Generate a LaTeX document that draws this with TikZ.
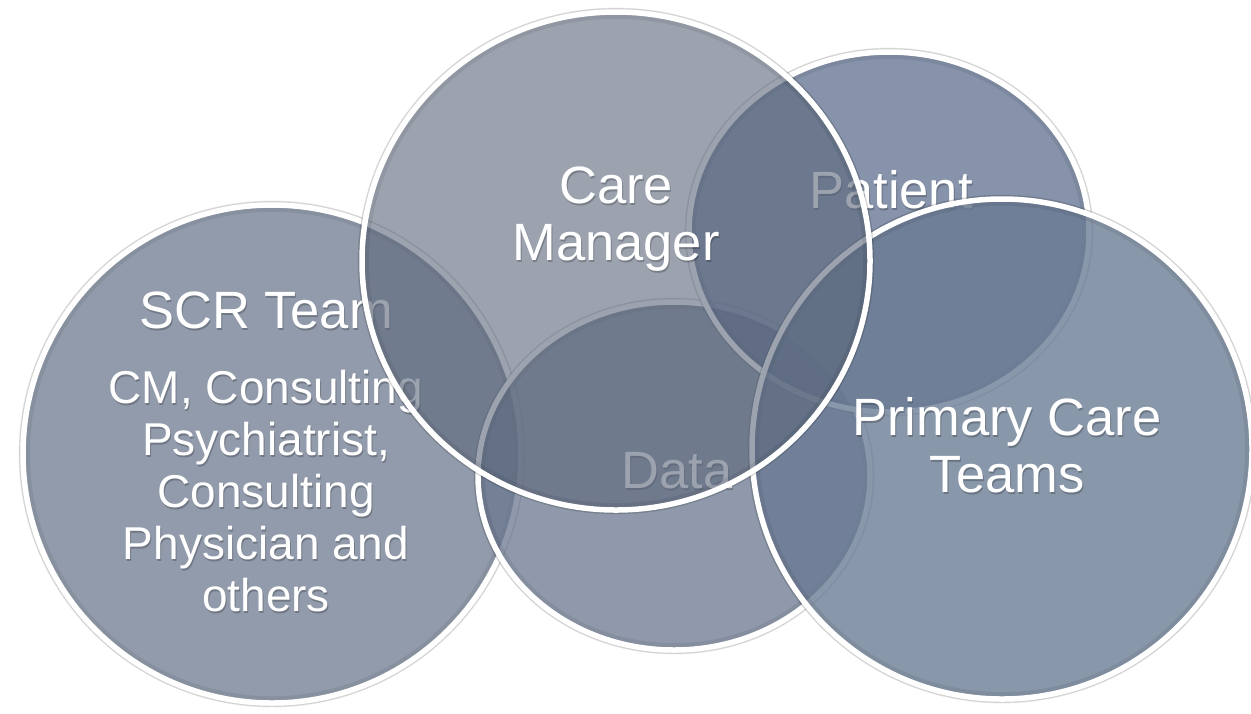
\documentclass[tikz,border=0pt]{standalone}
\usepackage{fontspec}
\setmainfont{Liberation Sans}
\usetikzlibrary{calc}

% fills of the five bubbles
\definecolor{scrfill}{RGB}{110,122,143}
\definecolor{datafill}{RGB}{106,119,143}
\definecolor{patfill}{RGB}{94,111,142}
\definecolor{pcfill}{RGB}{105,122,147}
\definecolor{cmfill}{RGB}{90,102,122}

\tikzset{
  bubble/.style={draw=white, line width=2.75pt, fill opacity=#1},
  halo/.style={draw=black, draw opacity=#1, line width=0.9pt},
  innershade/.style={draw=black, draw opacity=0.07, line width=2pt},
  bigtext/.style={text=white, align=center, anchor=base, inner sep=0pt,
    font=\fontsize{26.25pt}{28.5pt}\selectfont},
  smalltext/.style={text=white, align=center, anchor=base, inner sep=0pt,
    font=\fontsize{23pt}{26pt}\selectfont},
}

% a translucent bubble with a white rim, a soft outer shadow and an inner shade
% #1 centre, #2 x radius, #3 y radius, #4 fill colour, #5 fill opacity
\newcommand\bubbleshape[5]{%
  \draw[halo=0.07, line width=2pt, yshift=-1.2pt] (#1) ellipse[x radius=#2+1.2pt, y radius=#3+1.2pt];
  \draw[halo=0.11] (#1) ellipse[x radius=#2+1.5pt, y radius=#3+1.5pt];
  \draw[bubble=#5, fill=#4] (#1) ellipse[x radius=#2, y radius=#3];
  \draw[innershade] (#1) ellipse[x radius=#2-2.4pt, y radius=#3-2.4pt];}

% white label with a soft dark drop shadow; the base anchor sits on the last line
\newcommand\shadedlabel[4]{%
  \node[#3, text=black, text opacity=0.22] at ($(#2)+(1,2)$) {#4};
  \node[#3] (#1) at (#2) {#4};}

\begin{document}
\begin{tikzpicture}[x=0.5pt, y=-0.5pt]
  \fill[white] (0,0) rectangle (1251,713);
  \useasboundingbox (0,0) rectangle (1251,713);

  \coordinate (scrc) at (272,454);
  \coordinate (datac) at (674,476);
  \coordinate (patc) at (889,232);
  \coordinate (pcc) at (1002,449);
  \coordinate (cmc) at (616,261);

  % SCR team
  \bubbleshape{scrc}{124.5pt}{124.5pt}{scrfill}{0.75}
  \shadedlabel{scrtitle}{266,328}{bigtext}{SCR Team}
  \shadedlabel{scrmembers}{266,611}{smalltext}{CM, Consulting\\Psychiatrist,\\Consulting\\Physician and\\others}

  % Data
  \bubbleshape{datac}{98pt}{87pt}{datafill}{0.75}
  \shadedlabel{data}{677,488}{bigtext}{Data}

  % Patient
  \bubbleshape{patc}{100pt}{90pt}{patfill}{0.75}
  \shadedlabel{patient}{891,208}{bigtext}{Patient}

  % Primary care teams
  \bubbleshape{pcc}{125pt}{125pt}{pcfill}{0.78}
  \shadedlabel{primary}{1007,492}{bigtext}{Primary Care\\Teams}

  % Care manager
  \bubbleshape{cmc}{127pt}{124.5pt}{cmfill}{0.6}
  \shadedlabel{caremanager}{616,260}{bigtext}{Care\\Manager}
\end{tikzpicture}
\end{document}
